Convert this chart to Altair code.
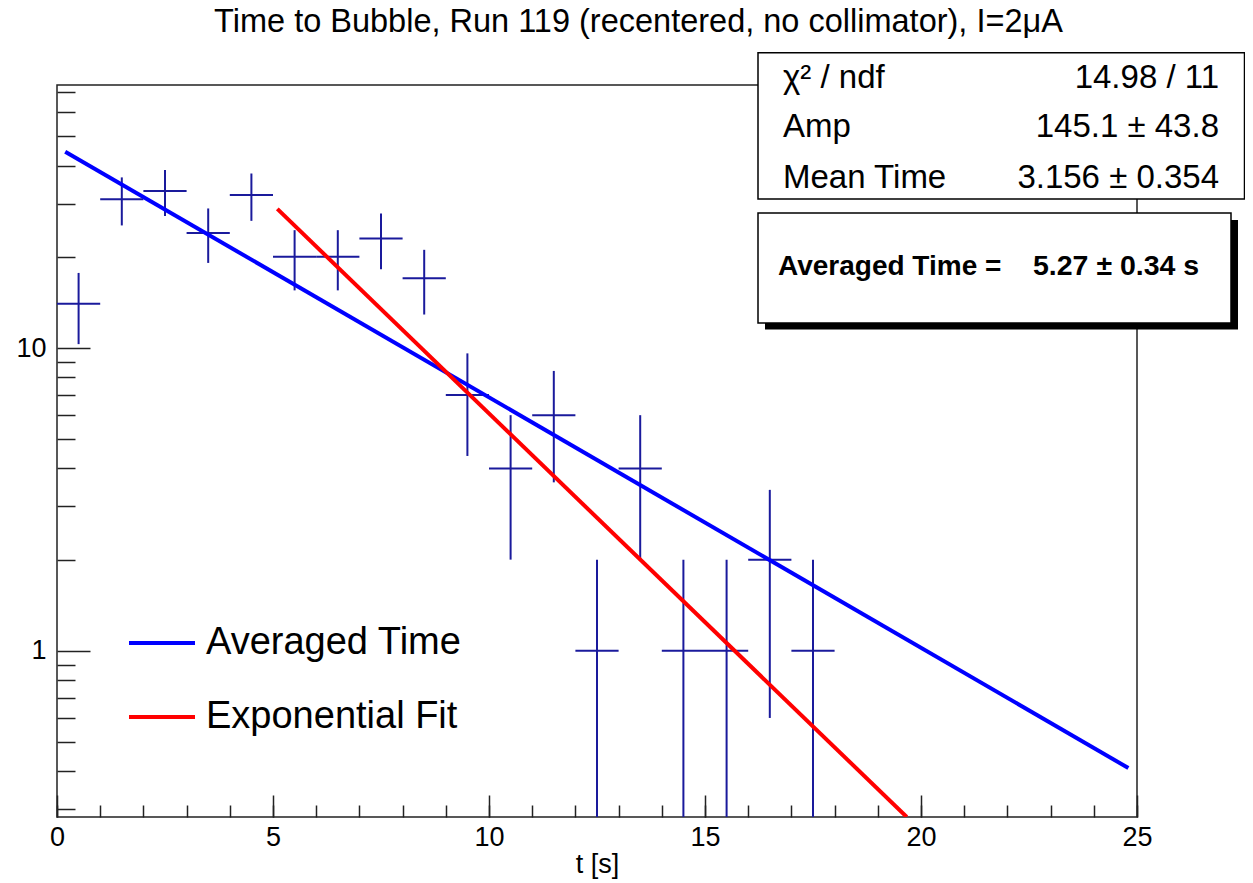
import altair as alt
import pandas as pd

FONT = "Liberation Sans"

# ---------------- data ----------------
title_text = "Time to Bubble, Run 119 (recentered, no collimator), I=2\u03bcA"
x_title = "t [s]"

bin_lo = [0, 1, 2, 3, 4, 5, 6, 7, 8, 9, 10, 11, 12, 13, 14, 15, 16, 17]
bin_hi = [1, 2, 3, 4, 5, 6, 7, 8, 9, 10, 11, 12, 13, 14, 15, 16, 17, 18]
bin_center = [0.5, 1.5, 2.5, 3.5, 4.5, 5.5, 6.5, 7.5, 8.5, 9.5, 10.5, 11.5,
              12.5, 13.5, 14.5, 15.5, 16.5, 17.5]
counts = [14, 31, 33, 24, 32, 20, 20, 23, 17, 7, 4, 6, 1, 4, 1, 1, 2, 1]
err_hi = [17.7, 36.6, 38.7, 28.9, 37.7, 24.5, 24.5, 27.8, 21.1, 9.6, 6.0, 8.4,
          2.0, 6.0, 2.0, 2.0, 3.4, 2.0]
# lower ends below the axis are given a tiny value and clipped
err_lo = [10.3, 25.4, 27.3, 19.1, 26.3, 15.5, 15.5, 18.2, 12.9, 4.4, 2.0, 3.6,
          0.01, 2.0, 0.01, 0.01, 0.6, 0.01]

series_names = ["Averaged Time", "Exponential Fit"]
avg_t = [0.19, 24.8]
avg_n = [44.5, 0.41]
fit_t = [5.1, 19.67]
fit_n = [28.8, 0.2825]

stat_labels = ["\u03c7\u00b2 / ndf", "Amp", "Mean Time"]
stat_values = ["14.98 / 11", "145.1 \u00b1 43.8", "3.156 \u00b1 0.354"]
avg_box_label = "Averaged Time ="
avg_box_value = "5.27 \u00b1 0.34 s"

x_major = [0, 5, 10, 15, 20, 25]
x_minor = list(range(0, 26))
y_major = [1, 10]
y_minor = [0.3, 0.4, 0.5, 0.6, 0.7, 0.8, 0.9, 2, 3, 4, 5, 6, 7, 8, 9,
           20, 30, 40, 50, 60, 70]

# ---------------- tables ----------------
hist = pd.DataFrame({"lo": bin_lo, "hi": bin_hi, "t": bin_center,
                     "n": counts, "elo": err_lo, "ehi": err_hi})
curves = pd.DataFrame({
    "t": avg_t + fit_t,
    "n": avg_n + fit_n,
    "series": [series_names[0]] * len(avg_t) + [series_names[1]] * len(fit_t),
})
one = pd.DataFrame({"k": [0]})

W, H = 1080, 732
NAVY = "#1a1a9c"
TICK = "#222222"

xs = alt.Scale(domain=[0, 25], nice=False, zero=False)
ys = alt.Scale(type="log", domain=[0.2825, 73.9], nice=False)

x_main_axis = alt.Axis(orient="bottom", values=x_major, tickSize=22, offset=-22,
                       domain=False, grid=False, title=x_title, format="d",
                       labelFont=FONT, labelFontSize=27, labelColor="black",
                       labelPadding=7, labelFlush=False, labelOverlap=False,
                       titleFont=FONT, titleFontSize=27, titleColor="black",
                       titleFontWeight="normal", titlePadding=1,
                       tickColor=TICK, tickWidth=1.5)
y_main_axis = alt.Axis(orient="left", values=y_major, tickSize=33, offset=-33,
                       domain=False, grid=False, title=None, format="~g",
                       labelFont=FONT, labelFontSize=27, labelColor="black",
                       labelPadding=11, labelOverlap=False,
                       tickColor=TICK, tickWidth=1.5)
x_minor_axis = alt.Axis(orient="bottom", values=x_minor, tickSize=12, offset=-12,
                        domain=False, grid=False, labels=False, title=None,
                        tickColor=TICK, tickWidth=1.5)
y_minor_axis = alt.Axis(orient="left", values=y_minor, tickSize=18, offset=-18,
                        domain=False, grid=False, labels=False, title=None,
                        tickColor=TICK, tickWidth=1.5)

hbars = alt.Chart(hist).mark_rule(color=NAVY, strokeWidth=2, clip=True).encode(
    x=alt.X("lo:Q", scale=xs, axis=x_main_axis),
    x2="hi:Q",
    y=alt.Y("n:Q", scale=ys, axis=y_main_axis),
)
vbars = alt.Chart(hist).mark_rule(color=NAVY, strokeWidth=2, clip=True).encode(
    x=alt.X("t:Q", scale=xs, axis=x_minor_axis),
    y=alt.Y("elo:Q", scale=ys, axis=y_minor_axis),
    y2="ehi:Q",
)
lines = alt.Chart(curves).mark_line(strokeWidth=4, clip=True).encode(
    x=alt.X("t:Q", scale=xs, axis=None),
    y=alt.Y("n:Q", scale=ys, axis=None),
    color=alt.Color("series:N",
                    scale=alt.Scale(domain=series_names, range=["#0000ff", "#ff0000"]),
                    legend=alt.Legend(orient="none", legendX=70, legendY=523,
                                      title=None, symbolType="stroke",
                                      symbolSize=4356, symbolStrokeWidth=4,
                                      labelFont=FONT, labelFontSize=38,
                                      labelColor="black", labelOffset=9,
                                      labelLimit=600,
                                      rowPadding=20, padding=0)),
    detail="series:N",
)

def box(x1, x2, y1, y2, fill, stroke=None):
    kw = dict(fill=fill)
    if stroke:
        kw.update(stroke=stroke, strokeWidth=1.5)
    return alt.Chart(one).mark_rect(**kw).encode(
        x=alt.value(x1), x2=alt.value(x2), y=alt.value(y1), y2=alt.value(y2))

def label(text, x, y, align="left", size=32, weight="normal"):
    return alt.Chart(one).mark_text(text=text, font=FONT, fontSize=size,
                                    fontWeight=weight, align=align,
                                    baseline="alphabetic", color="black").encode(
        x=alt.value(x), y=alt.value(y))

stats_box = box(701, 1187.5, -32.3, 114, "white", "black")
shadow = box(708, 1181, 135, 244.5, "black")
avg_box = box(701, 1174, 128, 238, "white", "black")

rows_y = [3, 51.7, 103]
texts = []
for lab, val, yy in zip(stat_labels, stat_values, rows_y):
    texts.append(label(lab, 726, yy, size=33))
    texts.append(label(val, 1162, yy, align="right", size=33))
texts.append(label(avg_box_label, 721, 190, size=28, weight="bold"))
texts.append(label(avg_box_value, 976, 190, size=28.5, weight="bold"))
texts.append(label(title_text, 581.5, -53, align="center", size=32.5))

chart = alt.layer(hbars, vbars, lines, stats_box, shadow, avg_box, *texts).resolve_axis(
    x="independent", y="independent"
).properties(
    width=W, height=H,
    padding={"left": 49, "top": 77, "right": 108, "bottom": 66},
    autosize=alt.AutoSizeParams(type="none"),
    background="white",
).configure_view(stroke="#222222", strokeWidth=1.5)

chart.save("out.html", embed_options={"renderer": "svg", "actions": False})
